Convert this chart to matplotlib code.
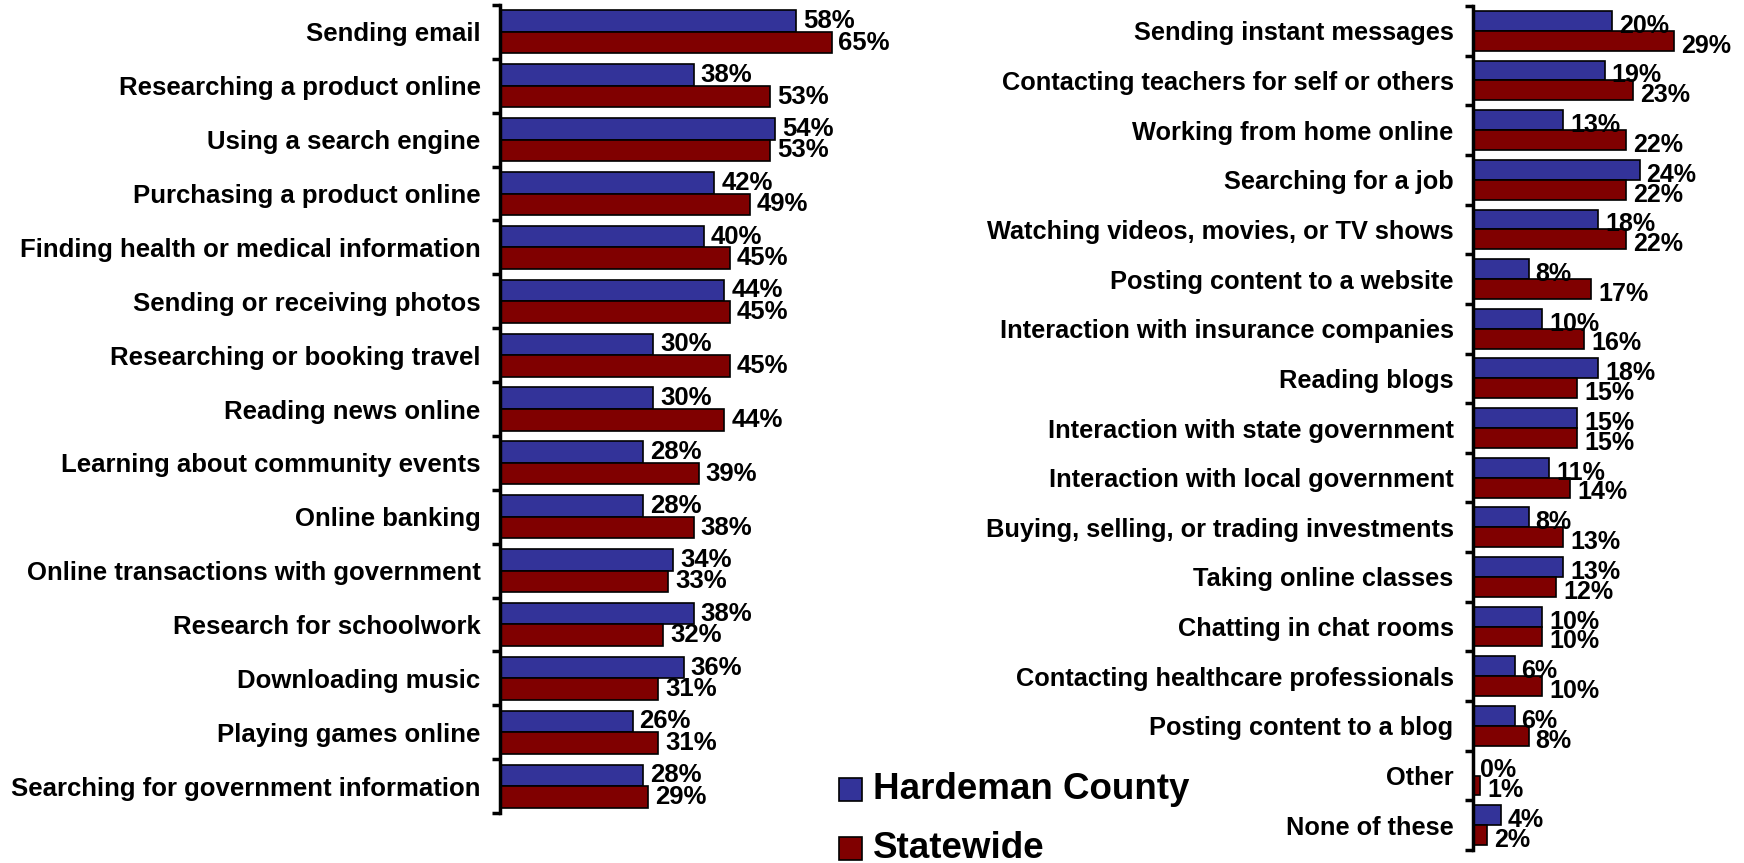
import matplotlib
matplotlib.use("Agg")
import matplotlib.pyplot as plt
from matplotlib.patches import Rectangle
import numpy as np

plt.rcParams['font.family'] = ['Liberation Sans', 'DejaVu Sans']
plt.rcParams['font.weight'] = 'bold'

left_cats = ["Sending email", "Researching a product online", "Using a search engine",
             "Purchasing a product online", "Finding health or medical information",
             "Sending or receiving photos", "Researching or booking travel",
             "Reading news online", "Learning about community events", "Online banking",
             "Online transactions with government", "Research for schoolwork",
             "Downloading music", "Playing games online",
             "Searching for government information"]
left_county = [58, 38, 54, 42, 40, 44, 30, 30, 28, 28, 34, 38, 36, 26, 28]
left_state = [65, 53, 53, 49, 45, 45, 45, 44, 39, 38, 33, 32, 31, 31, 29]

right_cats = ["Sending instant messages", "Contacting teachers for self or others",
              "Working from home online", "Searching for a job",
              "Watching videos, movies, or TV shows", "Posting content to a website",
              "Interaction with insurance companies", "Reading blogs",
              "Interaction with state government", "Interaction with local government",
              "Buying, selling, or trading investments", "Taking online classes",
              "Chatting in chat rooms", "Contacting healthcare professionals",
              "Posting content to a blog", "Other", "None of these"]
right_county = [20, 19, 13, 24, 18, 8, 10, 18, 15, 11, 8, 13, 10, 6, 6, 0, 4]
right_state = [29, 23, 22, 22, 22, 17, 16, 15, 15, 14, 13, 12, 10, 10, 8, 1, 2]

series_names = ["Hardeman County", "Statewide"]
BLUE = "#333399"
RED = "#800000"

W, H = 1744, 863
fig = plt.figure(figsize=(W / 100, H / 100), dpi=100)


def panel(rect, cats, a, b, xmax, label_dy, lab_size, cat_size):
    ax = fig.add_axes(rect)
    n = len(cats)
    y = np.arange(n)
    bh = 0.4
    ax.barh(y - bh / 2, a, height=bh, color=BLUE, edgecolor='black', linewidth=1.2)
    ax.barh(y + bh / 2, b, height=bh, color=RED, edgecolor='black', linewidth=1.2)
    for yy, v in zip(y - bh / 2, a):
        ax.annotate(f"{v}%", (v, yy), xytext=(5, label_dy), textcoords='offset points',
                    ha='left', va='center', fontsize=lab_size, fontweight='bold')
    for yy, v in zip(y + bh / 2, b):
        ax.annotate(f"{v}%", (v, yy), xytext=(5, label_dy), textcoords='offset points',
                    ha='left', va='center', fontsize=lab_size, fontweight='bold')
    ax.set_xlim(0, xmax)
    ax.set_ylim(n - 0.5, -0.5)
    ax.set_yticks(y)
    ax.set_yticklabels(cats, fontsize=cat_size, fontweight='bold')
    ax.tick_params(axis='y', which='major', length=0, pad=14)
    ax.set_yticks(np.arange(n + 1) - 0.5, minor=True)
    ax.tick_params(axis='y', which='minor', length=6, width=2.5, direction='out')
    ax.set_xticks([])
    for s in ['top', 'right', 'bottom']:
        ax.spines[s].set_visible(False)
    ax.spines['left'].set_linewidth(2.5)
    ax.patch.set_alpha(0)
    return ax


panel([500 / W, 1 - 813 / H, 357 / W, (813 - 5) / H], left_cats, left_county, left_state,
      70, 0, 18.5, 18.5)
panel([1473 / W, 1 - 850 / H, 243 / W, (850 - 6) / H], right_cats, right_county, right_state,
      35, -3.5, 18, 18.3)

# legend
for i, (name, col) in enumerate(zip(series_names, [BLUE, RED])):
    yc = 789 + i * 59
    fig.patches.append(Rectangle((839 / W, 1 - (yc + 11.5) / H), 23 / W, 23 / H,
                                 transform=fig.transFigure, facecolor=col,
                                 edgecolor='black', linewidth=1.2))
    fig.text(873 / W, 1 - yc / H, name, fontsize=26.5, fontweight='bold',
             ha='left', va='center')

fig.savefig("out.png", dpi=100)
